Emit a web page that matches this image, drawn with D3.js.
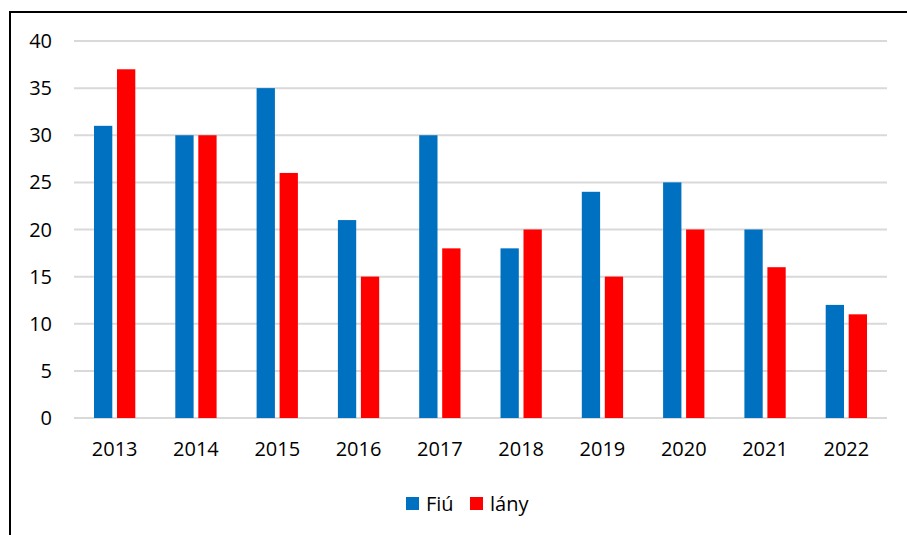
<!DOCTYPE html>
<html><head><meta charset="utf-8">
<script src="https://cdn.jsdelivr.net/npm/d3@7"></script>
<style>body{margin:0;background:#fff}svg{display:block}text{font-family:"Open Sans",sans-serif;fill:#000}</style>
</head><body>
<svg id="c" width="907" height="535"></svg>
<script>
const years = ["2013","2014","2015","2016","2017","2018","2019","2020","2021","2022"];
const fiu = [31,30,35,21,30,18,24,25,20,12];
const lany = [37,30,26,15,18,20,15,20,16,11];
const yTicks = [0,5,10,15,20,25,30,35,40];
const seriesNames = ["Fiú","lány"];
const colors = ["#0070C0","#FF0000"];

const svg = d3.select("#c");
// frame
svg.append("line").attr("x1",10).attr("x2",907).attr("y1",12).attr("y2",12).attr("stroke","#000").attr("stroke-width",2);
svg.append("line").attr("x1",10).attr("x2",10).attr("y1",11).attr("y2",535).attr("stroke","#000").attr("stroke-width",2);

const pL=74, pR=887, pT=41, pB=418;
const x = d3.scaleBand().domain(years).range([pL,pR]).paddingInner(0).paddingOuter(0);
const y = d3.scaleLinear().domain([0,40]).range([pB,pT]);
const inner = d3.scaleBand().domain(seriesNames).range([0,x.bandwidth()]).paddingInner(0.204).paddingOuter(0.87);

// grid
svg.append("g").selectAll("line").data(yTicks).join("line")
  .attr("x1",pL).attr("x2",pR).attr("y1",d=>y(d)).attr("y2",d=>y(d))
  .attr("stroke","#D9D9D9").attr("stroke-width",2);

// y labels
svg.append("g").selectAll("text").data(yTicks).join("text")
  .attr("x",52).attr("y",d=>y(d)).attr("dy","0.35em").attr("text-anchor","end")
  .attr("font-size",20).text(d=>d);

// bars
const data = [fiu,lany];
data.forEach((vals,si)=>{
  svg.append("g").selectAll("rect").data(vals).join("rect")
    .attr("x",(d,i)=>x(years[i])+inner(seriesNames[si]))
    .attr("width",inner.bandwidth())
    .attr("y",d=>y(d)).attr("height",d=>y(0)-y(d))
    .attr("fill",colors[si]);
});

// x labels
svg.append("g").selectAll("text").data(years).join("text")
  .attr("x",d=>x(d)+x.bandwidth()/2).attr("y",449).attr("dy","0.35em").attr("text-anchor","middle")
  .attr("font-size",20).text(d=>d);

// legend
const lg = svg.append("g");
const lx = [406,470];
seriesNames.forEach((n,i)=>{
  lg.append("rect").attr("x",lx[i]).attr("y",497).attr("width",13).attr("height",13).attr("fill",colors[i]);
  lg.append("text").attr("x",lx[i]+20).attr("y",503.5).attr("dy","0.35em").attr("font-size",20).text(n);
});
</script>
</body></html>
